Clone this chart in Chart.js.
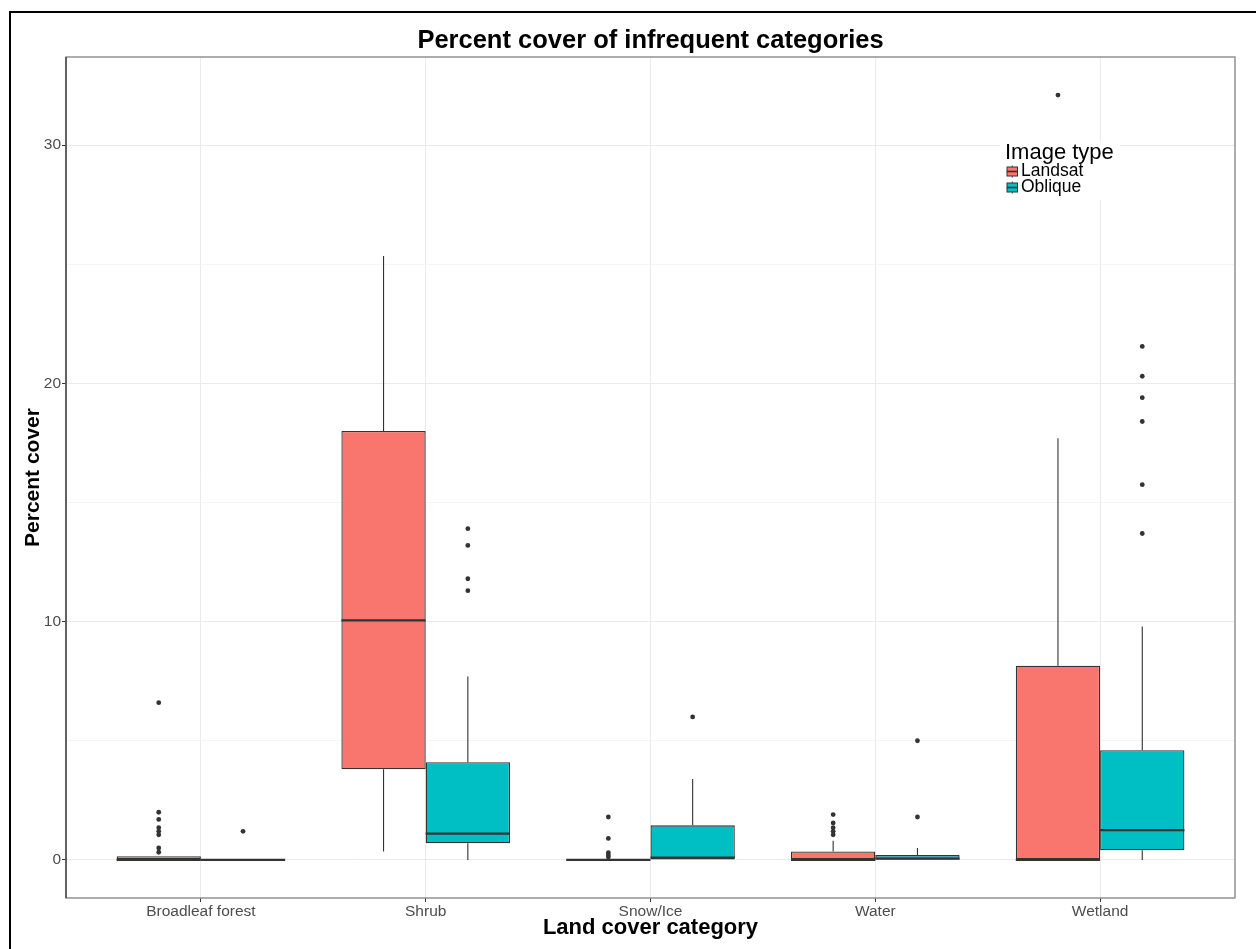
<!DOCTYPE html>
<html>
<head>
<meta charset="utf-8">
<title>Percent cover of infrequent categories</title>
<script src="https://cdn.jsdelivr.net/npm/chart.js@4.4.1/dist/chart.umd.min.js"></script>
<style>
  html, body { margin: 0; padding: 0; background: #ffffff; overflow: hidden; }
  #wrap { position: relative; width: 1256px; height: 949px; }
  #frame { position: absolute; left: 9px; top: 11px; right: -10px; bottom: -10px;
           border-top: 2px solid #000; border-left: 2px solid #000; }
  canvas { position: absolute; left: 0; top: 0; }
</style>
</head>
<body>
<div id="wrap">
  <div id="frame"></div>
  <canvas id="chart" width="1256" height="949"></canvas>
</div>
<script>
// Land cover categories on the x axis
const categories = ['Broadleaf forest', 'Shrub', 'Snow/Ice', 'Water', 'Wetland'];
const seriesNames = ['Landsat', 'Oblique'];
const yTicks = [0, 5, 10, 15, 20, 25, 30];
const chartTitle = 'Percent cover of infrequent categories';

// Landsat box statistics (percent cover)
const landsatLow    = [0,    0.35,  0, 0,    0];
const landsatQ1     = [0,    3.8,   0, 0,    0];
const landsatMedian = [0,    10.05, 0, 0,    0];
const landsatQ3     = [0.15, 18.0,  0, 0.35, 8.15];
const landsatHigh   = [0.15, 25.35, 0, 0.8,  17.7];
const landsatOutliers = [
  [6.6, 2.0, 1.7, 1.35, 1.2, 1.05, 0.5, 0.32],
  [],
  [1.8, 0.9, 0.3, 0.2, 0.12],
  [1.9, 1.55, 1.35, 1.2, 1.05],
  [32.1]
];

// Oblique box statistics (percent cover)
const obliqueLow    = [0, 0,   0,    0,    0];
const obliqueQ1     = [0, 0.7, 0,    0,    0.4];
const obliqueMedian = [0, 1.1, 0.1,  0.05, 1.25];
const obliqueQ3     = [0, 4.1, 1.45, 0.2,  4.6];
const obliqueHigh   = [0, 7.7, 3.4,  0.5,  9.8];
const obliqueOutliers = [
  [1.2],
  [13.9, 13.2, 11.8, 11.3],
  [6.0],
  [5.0, 1.8],
  [21.55, 20.3, 19.4, 18.4, 15.75, 13.7]
];

const fillColors = ['#F8766D', '#00BFC4'];
const inkColor = '#333333';
const FONT = "'Liberation Sans', Arial, sans-serif";

const seriesStats = [
  { low: landsatLow, q1: landsatQ1, med: landsatMedian, q3: landsatQ3, high: landsatHigh, out: landsatOutliers },
  { low: obliqueLow, q1: obliqueQ1, med: obliqueMedian, q3: obliqueQ3, high: obliqueHigh, out: obliqueOutliers }
];

// Whiskers, medians and outlying points on top of the bar-drawn boxes,
// then the panel frame, the centred title and the legend
const boxExtras = {
  id: 'boxExtras',
  afterDatasetsDraw(chart) {
    const { ctx, chartArea } = chart;
    const ys = chart.scales.y;
    ctx.save();
    ctx.beginPath();
    ctx.rect(chartArea.left, chartArea.top, chartArea.width, chartArea.height);
    ctx.clip();
    seriesStats.forEach((s, di) => {
      const meta = chart.getDatasetMeta(di);
      meta.data.forEach((bar, i) => {
        const cx = bar.x;
        const half = bar.width / 2;
        // whiskers
        ctx.strokeStyle = inkColor;
        ctx.lineWidth = 1.1;
        ctx.beginPath();
        ctx.moveTo(cx, ys.getPixelForValue(s.q3[i]));
        ctx.lineTo(cx, ys.getPixelForValue(s.high[i]));
        ctx.moveTo(cx, ys.getPixelForValue(s.q1[i]));
        ctx.lineTo(cx, ys.getPixelForValue(s.low[i]));
        ctx.stroke();
        // median
        const my = ys.getPixelForValue(s.med[i]);
        ctx.lineWidth = 2.2;
        ctx.beginPath();
        ctx.moveTo(cx - half, my);
        ctx.lineTo(cx + half, my);
        ctx.stroke();
        // outliers
        ctx.fillStyle = inkColor;
        s.out[i].forEach(v => {
          ctx.beginPath();
          ctx.arc(cx, ys.getPixelForValue(v), 2.4, 0, Math.PI * 2);
          ctx.fill();
        });
      });
    });
    ctx.restore();
  },
  afterDraw(chart) {
    const { ctx, chartArea } = chart;
    ctx.save();
    // panel border
    ctx.strokeStyle = '#8a8a8a';
    ctx.lineWidth = 1.4;
    ctx.strokeRect(chartArea.left, chartArea.top, chartArea.width, chartArea.height);
    ctx.strokeStyle = '#444';
    ctx.beginPath();
    ctx.moveTo(chartArea.left, chartArea.top);
    ctx.lineTo(chartArea.left, chartArea.bottom);
    ctx.stroke();

    // title, centred over the panel
    ctx.fillStyle = '#000';
    ctx.textAlign = 'center';
    ctx.textBaseline = 'middle';
    ctx.font = 'bold 25.5px ' + FONT;
    ctx.fillText(chartTitle, (chartArea.left + chartArea.right) / 2, 41);

    // legend
    const lx = 1000, ly = 142;
    ctx.fillStyle = '#ffffff';
    ctx.fillRect(lx, ly, 120, 58);
    ctx.fillStyle = '#000';
    ctx.textAlign = 'left';
    ctx.font = '22px ' + FONT;
    ctx.fillText('Image type', 1005, 153);
    ctx.font = '17.5px ' + FONT;
    const rows = [171.5, 187.5];
    seriesNames.forEach((name, k) => {
      const cy = rows[k];
      const kx = 1007, kw = 10.5, kh = 9;
      ctx.strokeStyle = inkColor;
      ctx.lineWidth = 1;
      ctx.beginPath();
      ctx.moveTo(kx + kw / 2, cy - kh / 2 - 1.5);
      ctx.lineTo(kx + kw / 2, cy + kh / 2 + 1.5);
      ctx.stroke();
      ctx.fillStyle = fillColors[k];
      ctx.fillRect(kx, cy - kh / 2, kw, kh);
      ctx.strokeRect(kx, cy - kh / 2, kw, kh);
      ctx.lineWidth = 1.6;
      ctx.beginPath();
      ctx.moveTo(kx, cy);
      ctx.lineTo(kx + kw, cy);
      ctx.stroke();
      ctx.fillStyle = '#000';
      ctx.fillText(name, 1021, cy);
    });
    ctx.restore();
  }
};

const datasets = seriesStats.map((s, di) => ({
  label: seriesNames[di],
  data: categories.map((c, i) => ({ x: i, y: [s.q1[i], s.q3[i]] })),
  backgroundColor: fillColors[di],
  borderColor: inkColor,
  borderWidth: 1.3,
  borderSkipped: false,
  categoryPercentage: 0.75,
  barPercentage: 1.0
}));

new Chart(document.getElementById('chart'), {
  type: 'bar',
  data: { datasets },
  options: {
    responsive: false,
    animation: false,
    parsing: { xAxisKey: 'x', yAxisKey: 'y' },
    layout: { padding: { left: 0, top: 57, right: 21, bottom: 0 } },
    plugins: {
      legend: { display: false },
      tooltip: { enabled: false },
      title: { display: false }
    },
    scales: {
      x: {
        type: 'linear',
        min: -0.6,
        max: categories.length - 0.4,
        offset: false,
        afterBuildTicks(scale) { scale.ticks = categories.map((c, i) => ({ value: i })); },
        afterFit(scale) { scale.height = 51; },
        ticks: {
          callback: (v) => categories[v] ?? '',
          color: '#4D4D4D',
          font: { family: FONT, size: 15.5 },
          padding: 0,
          maxRotation: 0,
          autoSkip: false
        },
        grid: { offset: false, color: '#EBEBEB', lineWidth: 1, tickLength: 4, tickColor: inkColor, tickWidth: 1 },
        border: { display: false },
        title: {
          display: true,
          text: 'Land cover category',
          color: '#000',
          font: { family: FONT, size: 22, weight: 'bold' },
          padding: { top: 0, bottom: 7.8 }
        }
      },
      y: {
        type: 'linear',
        min: -1.6,
        max: 33.7,
        afterBuildTicks(scale) { scale.ticks = yTicks.map(v => ({ value: v })); },
        afterFit(scale) { scale.width = 66; },
        ticks: {
          callback: (v) => (v % 10 === 0 ? String(v) : ''),
          color: '#4D4D4D',
          font: { family: FONT, size: 15.5 },
          padding: 1
        },
        grid: {
          color: (c) => (c.tick && c.tick.value % 10 === 0 ? '#EBEBEB' : '#F3F3F3'),
          lineWidth: (c) => (c.tick && c.tick.value % 10 === 0 ? 1 : 0.8),
          tickLength: 4,
          tickColor: (c) => (c.tick && c.tick.value % 10 === 0 ? inkColor : 'rgba(0,0,0,0)'),
          tickWidth: 1
        },
        border: { display: false },
        title: {
          display: true,
          text: 'Percent cover',
          color: '#000',
          font: { family: FONT, size: 21, weight: 'bold' },
          padding: { top: 20.4, bottom: 0 }
        }
      }
    }
  },
  plugins: [boxExtras]
});
</script>
</body>
</html>
